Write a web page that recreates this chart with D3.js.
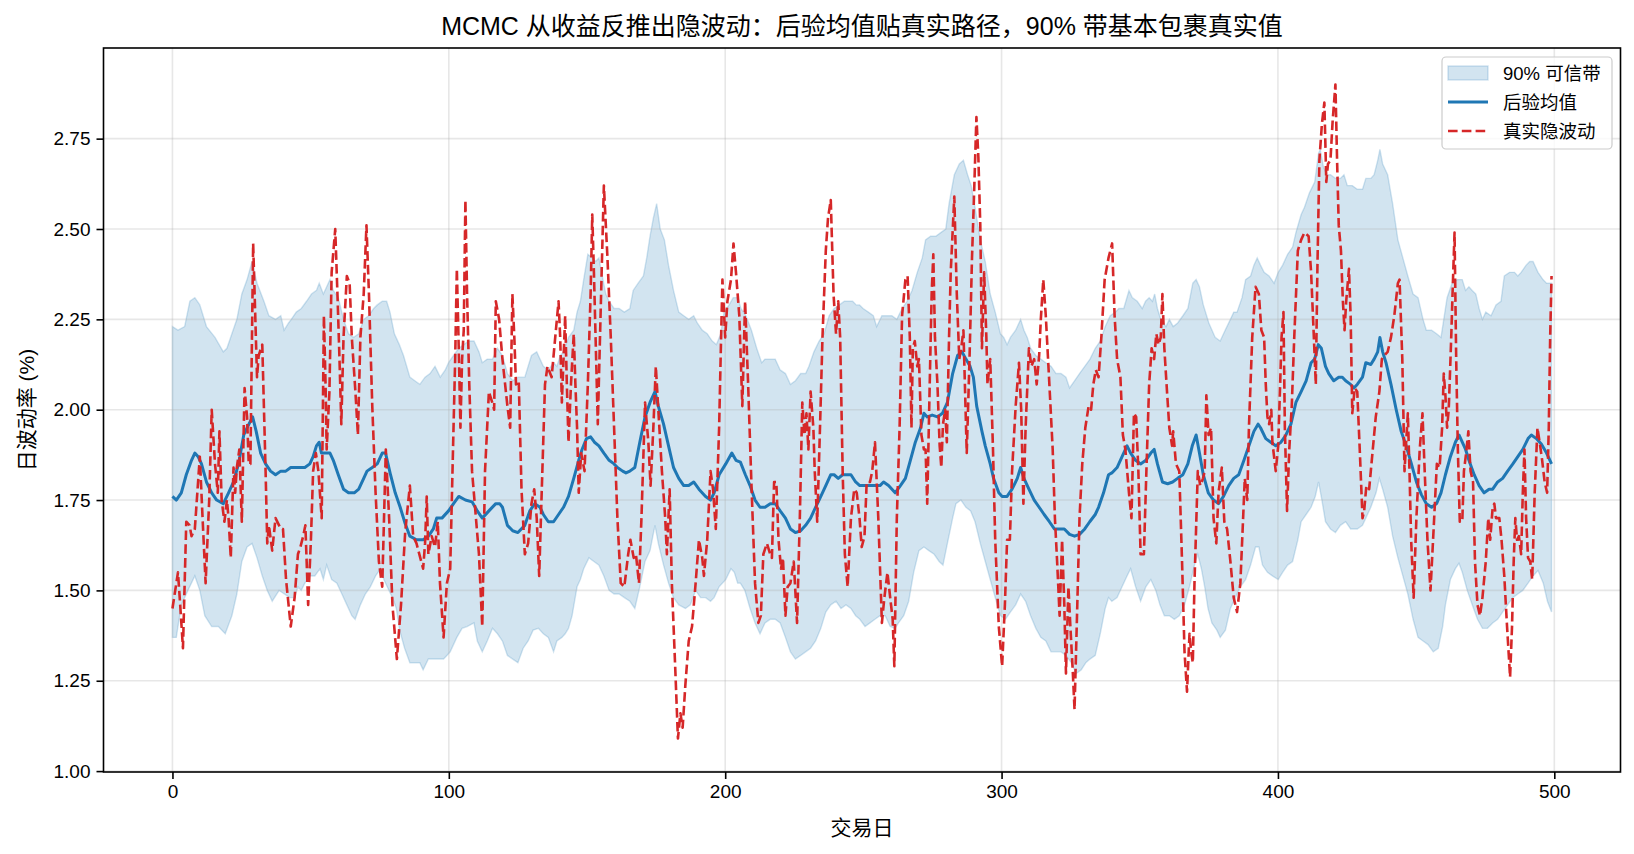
<!DOCTYPE html>
<html><head><meta charset="utf-8">
<script src="https://cdn.jsdelivr.net/npm/d3@7"></script>
<style>
html,body{margin:0;padding:0;background:#fff;}
text{font-family:"Liberation Sans","Noto Sans CJK SC",sans-serif;}
</style></head>
<body><svg id="chart" width="1634" height="854"></svg>
<script>
// ---------- data ----------
const titleText = "MCMC 从收益反推出隐波动：后验均值贴真实路径，90% 带基本包裹真实值";
const xLabel = "交易日";
const yLabel = "日波动率 (%)";
const legendLabels = ["90% 可信带", "后验均值", "真实隐波动"];
const xTicks = [0, 100, 200, 300, 400, 500];
const yTicks = [1.00, 1.25, 1.50, 1.75, 2.00, 2.25, 2.50, 2.75];

const trueDay = [0,2.0,2.8,3.8,5.0,6.2,6.9,8.1,9.9,10.9,12.0,13.3,14.2,15.4,16.4,17.0,17.8,18.8,19.7,20.3,21.1,22.1,22.7,23.3,24.2,25.1,26.1,27.0,27.6,28.2,29.2,30.0,30.6,31.2,32.5,33.7,34.3,34.9,36.1,37.3,39.2,40.0,41.1,42.8,44.2,45.4,46.3,47.3,48.1,49.1,50.1,50.9,51.9,52.8,54.0,54.8,55.4,55.8,56.8,57.6,58.9,59.7,60.4,61.1,61.9,63.1,64.1,64.9,66.2,67.1,68.0,69.2,70.2,71.1,72.3,73.5,74.7,75.9,77.2,78.4,79.6,81.2,82.7,84.2,85.9,87.1,88.3,90.7,91.4,92.0,92.6,93.8,95.0,96.0,96.8,98.1,99.3,100.5,101.7,102.3,102.9,103.5,104.2,104.8,105.4,106.0,106.6,107.4,108.4,109.6,110.9,112.1,113.1,114.5,115.7,116.4,117.0,118.2,119.4,121.2,122.2,123.0,123.7,124.3,125.3,126.3,127.5,128.7,129.9,130.9,131.8,132.7,133.6,134.8,135.7,137.2,138.5,139.7,140.3,140.9,141.5,142.1,142.7,143.3,144.2,145.2,145.8,146.4,147.0,147.9,149.1,150.3,151.3,151.9,152.5,153.1,153.9,154.7,155.5,156.1,157.4,158.6,159.8,161.0,162.2,163.5,164.9,165.7,166.9,167.7,168.8,169.7,171.0,172.2,173.0,174.0,174.9,175.8,177.1,178.3,178.9,179.9,180.7,182.0,182.9,183.8,184.6,185.6,186.8,188.0,189.3,190.5,191.7,192.3,193.5,194.7,195.6,196.6,197.8,198.4,199.0,200.0,200.8,202.1,203.0,203.9,205.1,206.2,207.2,208.3,209.6,210.8,212.0,212.9,213.8,215.1,216.3,216.9,217.7,218.5,219.3,220.2,220.9,221.8,222.6,223.6,224.8,226.0,227.0,227.9,228.7,229.4,230.1,230.9,231.9,232.4,233.3,234.3,235.2,236.4,237.2,238.2,239.2,240.1,240.9,241.6,242.5,243.3,244.3,245.5,246.7,247.6,248.6,249.4,250.4,251.2,252.4,253.2,254.2,255.4,256.7,257.6,258.7,259.7,260.6,261.2,262.1,263.1,264.0,265.2,266.0,266.8,267.4,267.9,268.6,269.5,270.1,271.0,271.9,272.5,273.1,274.0,274.7,275.3,275.9,276.8,277.6,278.2,278.8,279.6,280.2,281.0,281.6,282.9,283.8,284.7,285.4,286.2,286.8,287.4,288.4,289.3,289.9,290.9,291.6,292.3,292.9,293.7,294.5,294.9,295.9,296.9,297.7,299.0,300.2,301.2,302.0,303.0,303.8,305.1,306.3,307.1,307.9,308.7,309.9,310.8,311.8,312.7,313.6,314.2,315.1,316.0,317.3,318.5,319.3,320.1,321.0,321.9,322.7,323.3,324.2,324.9,325.8,326.4,327.4,328.2,329.2,330.3,331.5,332.4,333.2,334.1,335.1,336.1,337.3,338.7,340.0,340.9,341.8,343.0,343.9,344.8,346.1,347.0,347.9,348.7,349.5,350.3,351.5,352.4,353.4,354.3,355.2,356.0,356.8,357.6,358.2,358.9,359.7,360.7,361.7,362.1,363.1,364.3,365.3,366.2,367.1,368.0,368.6,369.2,369.8,371.0,371.9,372.9,373.5,374.1,374.9,375.8,376.7,377.7,378.5,379.7,380.6,381.6,382.8,384.0,385.2,386.4,387.4,388.0,388.9,389.5,390.7,391.9,393.1,394.0,395.0,395.6,396.2,396.8,397.6,398.0,399.2,400.1,400.8,401.3,402.0,402.5,403.3,404.1,405.0,405.9,407.2,408.4,409.6,411.1,412.0,413.0,413.7,414.3,415.0,415.9,416.8,417.5,418.1,419.0,419.8,420.8,421.4,422.0,422.8,423.5,424.1,424.7,425.7,426.3,426.9,427.8,428.7,429.6,430.6,431.2,432.0,433.0,434.2,435.4,436.7,437.6,438.5,439.7,440.9,442.1,443.4,444.0,445.0,445.8,447.0,447.6,448.2,449.1,450.1,451.3,452.3,453.1,454.1,455.2,456.4,457.5,458.5,459.4,460.0,460.6,461.2,461.8,462.7,463.3,463.9,464.5,465.1,465.8,466.7,467.3,468.1,468.9,469.7,470.6,471.3,472.2,473.1,474.0,475.2,476.1,476.8,477.7,478.3,478.9,480.1,480.9,481.9,482.9,484.0,484.7,485.3,485.9,486.5,487.2,488.0,488.6,489.2,489.8,490.5,491.3,492.0,492.9,493.9,494.7,495.6,496.5,497.4,498.0,498.5,499.0];
const trueVol = [1.45,1.55,1.46,1.34,1.69,1.68,1.65,1.67,1.87,1.70,1.52,1.75,2.00,1.85,1.77,1.94,1.75,1.69,1.75,1.70,1.59,1.84,1.77,1.84,1.89,1.69,2.06,1.98,1.85,1.85,2.46,2.25,2.09,2.15,2.18,1.83,1.63,1.68,1.61,1.70,1.67,1.67,1.53,1.40,1.48,1.60,1.62,1.65,1.68,1.46,1.64,1.83,1.88,1.83,1.70,2.26,2.07,1.89,2.05,2.38,2.50,2.32,2.15,1.96,2.20,2.37,2.35,2.20,2.05,1.93,2.20,2.32,2.51,2.32,2.01,1.77,1.58,1.51,1.89,1.70,1.46,1.31,1.46,1.66,1.79,1.65,1.63,1.56,1.63,1.76,1.60,1.65,1.62,1.69,1.52,1.37,1.52,1.56,1.95,2.14,2.39,2.20,1.95,2.14,2.22,2.58,2.32,2.07,1.83,1.72,1.60,1.40,1.83,2.05,2.02,2.00,2.30,2.25,2.14,2.01,1.95,2.32,2.20,2.07,2.08,1.78,1.60,1.63,1.74,1.78,1.70,1.54,1.77,2.07,2.12,2.09,2.20,2.30,2.20,2.02,2.14,2.26,2.07,1.91,2.07,2.21,2.07,1.95,1.77,1.88,1.83,2.07,2.32,2.54,2.38,2.20,1.96,2.20,2.44,2.62,2.42,2.20,1.95,1.70,1.52,1.51,1.60,1.64,1.59,1.60,1.52,1.70,2.02,1.91,1.79,1.95,2.12,2.00,1.83,1.70,1.60,1.78,1.52,1.27,1.09,1.16,1.12,1.24,1.36,1.40,1.52,1.64,1.59,1.54,1.64,1.83,1.78,1.67,1.95,2.16,2.36,2.20,2.30,2.36,2.46,2.38,2.26,2.01,2.30,2.07,1.77,1.52,1.41,1.43,1.60,1.63,1.60,1.59,1.80,1.80,1.64,1.56,1.59,1.43,1.51,1.52,1.58,1.41,1.70,2.02,1.93,1.99,1.89,2.05,1.95,1.83,1.69,1.95,2.20,2.44,2.53,2.58,2.32,2.21,2.30,2.20,1.83,1.60,1.51,1.70,1.78,1.77,1.70,1.62,1.65,1.80,1.80,1.83,1.91,1.70,1.41,1.48,1.55,1.48,1.42,1.29,1.70,1.95,2.26,2.36,2.37,2.20,1.95,2.17,2.19,2.12,2.14,1.93,1.89,1.89,1.74,2.07,2.32,2.43,2.20,2.07,1.90,1.84,1.96,2.00,1.91,2.20,2.38,2.59,2.32,2.14,2.17,2.22,2.05,1.88,2.14,2.42,2.56,2.81,2.70,2.51,2.17,2.38,2.20,2.07,2.14,1.89,1.64,1.40,1.29,1.46,1.64,1.64,1.83,2.01,2.13,2.00,1.74,1.95,2.17,2.12,2.14,2.07,2.15,2.25,2.36,2.26,2.07,1.89,1.70,1.58,1.43,1.64,1.46,1.27,1.51,1.40,1.27,1.17,1.46,1.70,1.85,1.95,2.01,2.00,2.07,2.11,2.09,2.20,2.36,2.42,2.46,2.26,2.14,2.09,1.93,1.89,1.77,1.70,1.99,1.98,1.83,1.60,1.60,1.83,2.07,2.17,2.14,2.21,2.18,2.20,2.32,2.17,2.07,1.95,1.90,1.94,1.85,1.83,1.58,1.33,1.22,1.38,1.33,1.30,1.52,1.83,1.79,1.81,1.83,2.04,1.93,1.95,1.70,1.63,1.77,1.84,1.69,1.67,1.58,1.48,1.44,1.52,1.70,1.81,1.75,1.95,2.20,2.34,2.32,2.22,2.20,2.07,1.98,1.96,2.00,1.91,1.83,1.90,2.07,2.20,2.27,1.95,1.72,1.89,2.01,2.20,2.44,2.47,2.49,2.48,2.38,2.20,2.07,2.40,2.69,2.79,2.85,2.63,2.68,2.69,2.80,2.90,2.69,2.51,2.44,2.30,2.22,2.30,2.39,2.26,1.99,2.06,2.05,1.89,1.70,1.72,1.79,1.78,1.88,1.98,2.05,2.14,2.15,2.16,2.20,2.26,2.35,2.36,2.14,1.83,1.99,1.83,1.64,1.48,1.70,1.89,1.99,1.83,1.64,1.50,1.68,1.85,1.84,1.95,2.10,2.04,1.95,2.00,2.20,2.35,2.49,2.14,1.89,1.69,1.69,1.83,1.88,1.94,1.83,1.80,1.58,1.46,1.43,1.48,1.58,1.70,1.64,1.73,1.74,1.70,1.70,1.64,1.54,1.40,1.26,1.40,1.58,1.70,1.64,1.65,1.60,1.77,1.89,1.70,1.59,1.58,1.53,1.77,1.95,1.91,1.86,1.80,1.77,1.95,2.20,2.37];

const meanDay = [0,1.4,3.2,5.0,6.9,8.1,9.3,10.5,12.3,14.2,16.0,18.4,20.3,22.1,23.9,25.8,27.0,29.0,30.3,31.9,33.7,35.5,37.3,39.2,41.0,42.8,44.8,46.1,47.9,49.7,50.9,52.1,53.1,53.9,55.8,57.0,58.2,60.0,61.9,63.7,65.8,67.4,69.2,70.4,72.3,74.1,75.9,77.1,78.9,80.6,82.4,84.2,85.9,88.3,90.7,92.6,94.4,95.6,97.5,99.9,101.7,103.6,106.0,108.4,110.3,112.1,114.5,117.0,118.4,119.4,121.2,123.1,125.0,127.5,129.3,131.1,133.0,134.2,136.0,137.9,139.7,141.5,143.3,145.2,147.0,148.2,149.8,151.3,152.7,154.3,156.1,158.0,159.8,161.0,162.9,164.1,165.5,167.3,169.1,171.0,172.8,174.6,175.8,177.7,179.5,181.3,183.2,185.0,186.8,188.6,190.5,192.9,194.7,196.0,197.8,200.2,202.4,203.9,205.5,207.3,209.0,210.8,212.6,214.4,216.3,218.1,219.9,221.8,223.6,225.4,227.3,229.1,230.9,232.7,234.6,236.4,238.2,239.4,240.9,242.5,244.1,245.5,247.2,248.7,250.6,252.4,254.2,256.0,257.3,259.1,261.5,263.4,265.2,267.0,268.8,270.7,271.9,273.1,274.9,276.8,278.6,280.4,282.3,284.1,285.7,287.1,288.6,289.8,291.0,292.9,294.1,295.9,297.1,299.0,300.2,302.0,303.8,305.7,306.9,308.1,309.9,311.8,313.6,315.4,317.3,319.1,320.9,322.7,324.6,326.4,328.2,330.1,331.9,333.9,335.1,336.9,338.7,339.9,341.8,343.6,345.4,346.7,348.5,350.3,352.2,354.0,355.2,356.4,358.2,360.1,361.9,363.7,365.6,367.4,369.0,370.4,371.6,373.0,374.8,376.7,378.5,380.3,382.2,384.0,385.8,387.7,389.5,391.3,392.8,393.7,395.6,397.4,399.2,401.1,402.9,404.7,406.5,408.4,410.2,412.0,413.3,414.6,415.7,417.2,418.4,420.2,422.0,423.3,424.5,426.3,427.5,428.7,430.6,431.8,433.6,434.8,436.1,436.9,437.9,439.1,440.9,442.8,444.6,446.4,448.3,450.1,451.9,453.7,455.6,457.4,459.0,460.6,462.4,464.2,465.5,466.7,467.9,469.1,471.0,472.8,474.6,476.4,477.7,479.5,481.3,483.1,485.0,486.8,488.6,490.5,491.7,493.5,495.3,497.2,499.0];
const meanVol = [1.76,1.75,1.77,1.82,1.86,1.88,1.87,1.85,1.80,1.77,1.75,1.74,1.77,1.80,1.85,1.93,1.95,1.98,1.94,1.88,1.85,1.83,1.82,1.83,1.83,1.84,1.84,1.84,1.84,1.85,1.87,1.90,1.91,1.88,1.88,1.88,1.86,1.82,1.78,1.77,1.77,1.78,1.81,1.83,1.84,1.85,1.88,1.88,1.82,1.77,1.73,1.685,1.65,1.64,1.64,1.65,1.67,1.70,1.70,1.72,1.74,1.76,1.75,1.745,1.72,1.70,1.72,1.74,1.74,1.73,1.68,1.665,1.66,1.68,1.72,1.74,1.73,1.71,1.69,1.69,1.71,1.73,1.76,1.81,1.86,1.89,1.92,1.925,1.91,1.90,1.88,1.86,1.85,1.84,1.83,1.825,1.83,1.84,1.91,1.98,2.02,2.05,2.01,1.96,1.90,1.84,1.81,1.79,1.79,1.80,1.78,1.76,1.75,1.77,1.82,1.85,1.88,1.86,1.855,1.82,1.79,1.75,1.73,1.73,1.74,1.74,1.72,1.70,1.67,1.66,1.665,1.68,1.70,1.73,1.76,1.79,1.82,1.82,1.81,1.82,1.82,1.82,1.80,1.79,1.79,1.79,1.79,1.79,1.80,1.79,1.77,1.79,1.81,1.86,1.91,1.95,1.99,1.98,1.985,1.98,1.99,2.02,2.10,2.15,2.16,2.14,2.12,2.09,2.01,1.94,1.90,1.85,1.81,1.77,1.76,1.76,1.78,1.81,1.84,1.81,1.78,1.75,1.73,1.71,1.69,1.67,1.67,1.67,1.655,1.65,1.655,1.67,1.69,1.71,1.73,1.77,1.82,1.825,1.84,1.87,1.90,1.88,1.86,1.85,1.86,1.88,1.89,1.85,1.80,1.795,1.80,1.81,1.82,1.85,1.90,1.93,1.88,1.82,1.77,1.75,1.74,1.76,1.79,1.81,1.82,1.86,1.90,1.94,1.96,1.95,1.92,1.91,1.90,1.91,1.93,1.96,2.02,2.05,2.08,2.13,2.14,2.18,2.17,2.12,2.10,2.08,2.09,2.09,2.08,2.07,2.06,2.07,2.09,2.13,2.125,2.14,2.16,2.20,2.16,2.13,2.07,2.00,1.94,1.90,1.85,1.80,1.765,1.74,1.73,1.74,1.77,1.82,1.87,1.91,1.93,1.91,1.89,1.86,1.82,1.79,1.77,1.78,1.78,1.80,1.81,1.83,1.85,1.87,1.89,1.92,1.93,1.92,1.905,1.88,1.85];

const hiDay = [0,2.0,4.4,6.3,8.1,9.9,12.3,15.4,18.4,19.7,21.5,23.3,25.1,27.0,28.8,30.6,33.1,34.9,37.3,39.2,40.4,42.0,43.0,44.8,46.6,48.5,50.3,52.1,53.1,54.6,55.8,57.0,58.2,60.0,61.9,63.7,65.5,67.4,69.2,71.0,72.8,74.1,75.9,77.5,78.7,80.3,82.1,83.6,85.9,87.7,89.5,91.4,93.2,95.0,96.9,98.7,99.9,101.7,103.6,105.4,107.2,109.1,110.9,112.1,113.9,115.8,117.6,119.4,121.2,123.1,125.0,127.5,128.7,129.9,131.8,133.0,134.2,136.0,137.9,139.1,140.3,141.5,143.3,145.2,146.4,147.6,148.8,150.3,151.9,153.1,154.3,155.5,156.8,158.0,159.8,161.6,163.5,165.5,166.7,168.5,170.4,171.6,172.8,174.0,175.2,176.5,178.0,179.5,181.3,183.2,185.0,186.8,188.6,189.9,191.7,193.5,195.3,196.8,198.4,199.6,201.4,202.9,204.5,205.7,207.5,209.5,211.4,213.2,214.4,216.3,218.1,219.9,221.8,223.6,225.4,227.3,229.1,230.3,232.1,234.0,235.8,237.6,239.4,241.3,243.1,244.6,246.1,247.4,248.6,249.9,251.8,253.6,254.8,256.7,258.5,260.3,262.1,264.0,265.8,267.6,269.5,271.3,272.5,274.3,276.2,278.0,279.8,281.0,282.9,284.7,286.2,287.7,289.0,290.4,292.3,294.1,295.9,297.7,299.6,300.8,302.0,303.2,305.1,306.9,308.1,309.3,310.5,312.4,314.2,316.0,317.9,319.7,321.5,323.3,324.6,326.4,328.2,330.1,332.0,333.9,335.7,337.5,339.3,341.2,342.4,344.2,346.1,347.3,349.1,350.9,352.1,353.4,354.6,355.4,356.4,357.6,359.5,360.7,362.1,363.7,365.6,367.4,369.2,370.4,371.6,373.0,375.0,377.3,379.1,380.9,382.8,384.0,385.2,387.0,388.3,390.1,391.3,392.5,393.7,395.0,396.8,398.6,400.1,401.7,403.5,405.3,406.5,408.4,409.6,411.4,413.3,414.7,415.3,416.5,417.8,419.0,420.8,422.6,423.9,425.1,426.9,428.7,430.6,431.8,433.6,434.8,436.1,436.9,437.9,439.7,441.5,443.4,445.2,447.0,448.9,450.7,452.5,453.7,455.6,457.4,459.0,460.0,461.2,463.0,464.9,466.7,467.9,469.1,470.3,471.6,472.8,474.0,475.2,477.1,478.9,480.7,481.9,483.8,485.6,486.8,488.0,489.8,491.1,492.3,494.1,495.9,497.2,499.0];
const hiVol = [2.23,2.22,2.23,2.30,2.31,2.29,2.23,2.20,2.16,2.17,2.21,2.25,2.32,2.36,2.41,2.35,2.30,2.26,2.25,2.26,2.22,2.24,2.25,2.27,2.28,2.30,2.32,2.33,2.35,2.32,2.34,2.36,2.33,2.31,2.25,2.21,2.20,2.21,2.25,2.26,2.28,2.29,2.30,2.30,2.27,2.21,2.18,2.15,2.09,2.08,2.07,2.09,2.10,2.12,2.09,2.11,2.13,2.15,2.17,2.18,2.19,2.19,2.16,2.13,2.14,2.14,2.17,2.15,2.10,2.08,2.09,2.09,2.12,2.15,2.16,2.14,2.12,2.11,2.13,2.12,2.15,2.16,2.20,2.22,2.27,2.30,2.36,2.43,2.42,2.41,2.42,2.37,2.32,2.30,2.28,2.28,2.27,2.28,2.33,2.35,2.37,2.42,2.48,2.53,2.57,2.50,2.47,2.40,2.33,2.27,2.26,2.25,2.26,2.24,2.22,2.21,2.19,2.18,2.21,2.27,2.29,2.31,2.31,2.28,2.26,2.22,2.17,2.13,2.14,2.14,2.14,2.11,2.10,2.07,2.08,2.10,2.10,2.12,2.16,2.19,2.21,2.26,2.28,2.29,2.30,2.30,2.30,2.29,2.29,2.28,2.27,2.26,2.23,2.26,2.26,2.26,2.25,2.28,2.30,2.33,2.38,2.42,2.47,2.48,2.48,2.49,2.50,2.57,2.65,2.68,2.69,2.65,2.62,2.56,2.47,2.41,2.32,2.27,2.21,2.20,2.18,2.20,2.22,2.25,2.22,2.20,2.17,2.15,2.14,2.13,2.12,2.10,2.10,2.09,2.06,2.08,2.10,2.12,2.14,2.17,2.19,2.23,2.26,2.27,2.28,2.28,2.33,2.31,2.30,2.28,2.30,2.31,2.30,2.32,2.28,2.25,2.23,2.25,2.23,2.24,2.26,2.28,2.35,2.36,2.34,2.29,2.24,2.20,2.19,2.22,2.25,2.27,2.27,2.31,2.36,2.37,2.40,2.42,2.40,2.38,2.37,2.35,2.38,2.40,2.43,2.45,2.49,2.54,2.56,2.60,2.63,2.71,2.72,2.67,2.65,2.65,2.64,2.64,2.65,2.62,2.62,2.61,2.61,2.64,2.64,2.65,2.69,2.72,2.68,2.65,2.57,2.47,2.42,2.37,2.32,2.31,2.25,2.22,2.22,2.21,2.20,2.25,2.31,2.35,2.36,2.36,2.33,2.34,2.33,2.32,2.28,2.25,2.27,2.26,2.29,2.30,2.37,2.38,2.38,2.37,2.38,2.40,2.41,2.41,2.38,2.36,2.35,2.35];

const loDay = [0,1.4,3.2,5.6,8.1,9.9,11.7,14.2,16.6,19.1,21.5,23.3,25.1,27.0,28.8,30.6,32.5,34.3,36.1,38.6,40.5,42.4,44.2,45.4,46.6,47.9,49.7,51.5,53.4,54.6,55.8,57.6,59.5,61.3,63.1,64.9,66.1,68.0,69.8,71.6,73.5,75.3,76.5,77.7,79.6,81.0,82.2,84.0,85.9,87.7,89.5,90.7,92.6,94.4,96.2,98.1,99.3,100.5,101.7,102.9,104.8,106.6,109.1,110.3,112.1,113.9,115.8,117.6,119.4,121.2,123.1,125.0,126.9,128.7,130.5,132.4,134.2,136.0,137.9,139.1,140.9,142.1,143.3,144.6,146.4,147.6,148.8,150.7,152.5,154.3,156.1,158.0,159.8,161.6,163.5,165.5,167.3,169.1,171.0,172.8,174.6,175.8,177.7,179.5,181.3,183.2,185.6,187.4,189.3,191.1,192.9,194.7,196.0,197.8,200.2,202.1,203.3,204.5,205.5,207.1,209.0,210.8,212.6,214.4,216.3,218.1,219.9,221.8,223.6,225.4,227.3,229.1,230.9,232.7,234.6,236.4,238.2,240.1,241.9,243.7,245.5,247.2,248.7,250.6,252.4,254.2,256.0,257.9,259.7,261.5,262.7,264.6,266.4,268.2,270.1,271.9,273.7,275.6,277.4,278.8,280.4,282.3,283.5,285.3,287.1,288.8,290.4,292.3,294.1,295.9,297.7,299.6,301.4,303.2,305.1,306.9,308.7,310.5,312.4,314.2,316.0,317.9,319.7,321.5,323.3,325.2,327.0,328.8,330.5,332.0,333.9,335.7,337.5,338.7,339.9,341.8,343.6,345.4,346.7,348.5,350.3,352.2,354.0,355.8,357.3,358.9,360.7,362.5,364.3,366.2,368.0,369.8,371.0,372.3,373.5,374.7,376.1,377.9,379.1,381.0,382.8,384.6,386.4,388.3,390.1,391.9,393.1,394.4,396.2,398.0,400.1,401.7,403.5,405.3,407.2,408.4,410.2,412.0,413.5,414.7,415.9,417.2,419.0,420.8,422.6,424.5,426.3,428.7,430.6,431.8,433.6,435.5,436.7,437.9,439.7,441.5,443.4,445.2,447.0,448.9,450.7,452.5,454.3,456.2,458.0,459.6,460.6,462.4,464.2,465.5,466.7,468.5,470.3,472.2,474.0,475.8,477.7,479.5,481.3,483.1,485.0,486.8,488.6,490.5,492.3,494.1,496.0,497.5,499.0];
const loVol = [1.37,1.37,1.46,1.50,1.54,1.50,1.43,1.40,1.40,1.38,1.43,1.49,1.58,1.62,1.63,1.59,1.54,1.50,1.47,1.50,1.49,1.48,1.48,1.51,1.50,1.52,1.54,1.54,1.56,1.53,1.57,1.53,1.52,1.49,1.46,1.43,1.42,1.46,1.49,1.51,1.54,1.56,1.53,1.51,1.48,1.45,1.39,1.34,1.30,1.30,1.30,1.28,1.31,1.31,1.31,1.31,1.32,1.33,1.35,1.37,1.395,1.40,1.41,1.36,1.33,1.36,1.395,1.38,1.36,1.32,1.31,1.30,1.34,1.36,1.39,1.395,1.38,1.37,1.33,1.36,1.37,1.38,1.395,1.43,1.51,1.53,1.56,1.59,1.58,1.57,1.54,1.50,1.49,1.49,1.48,1.47,1.45,1.51,1.58,1.61,1.68,1.63,1.57,1.52,1.48,1.46,1.45,1.46,1.50,1.48,1.48,1.47,1.48,1.51,1.53,1.56,1.55,1.52,1.52,1.50,1.45,1.41,1.38,1.41,1.42,1.42,1.41,1.37,1.33,1.31,1.32,1.33,1.34,1.36,1.395,1.44,1.46,1.47,1.45,1.46,1.45,1.43,1.42,1.40,1.41,1.42,1.43,1.43,1.40,1.395,1.41,1.43,1.47,1.55,1.61,1.62,1.61,1.60,1.58,1.57,1.63,1.70,1.74,1.75,1.73,1.72,1.69,1.63,1.58,1.53,1.48,1.43,1.42,1.44,1.46,1.49,1.47,1.43,1.395,1.37,1.36,1.33,1.33,1.33,1.32,1.30,1.27,1.28,1.30,1.31,1.32,1.38,1.45,1.48,1.47,1.48,1.51,1.54,1.56,1.51,1.47,1.51,1.53,1.50,1.46,1.43,1.43,1.42,1.43,1.46,1.51,1.57,1.60,1.56,1.51,1.45,1.41,1.39,1.37,1.39,1.45,1.48,1.51,1.53,1.57,1.62,1.62,1.57,1.55,1.54,1.53,1.55,1.57,1.58,1.64,1.69,1.71,1.73,1.76,1.80,1.75,1.69,1.67,1.66,1.68,1.69,1.67,1.67,1.68,1.70,1.73,1.77,1.81,1.78,1.73,1.65,1.59,1.54,1.49,1.42,1.37,1.36,1.35,1.33,1.34,1.40,1.46,1.53,1.56,1.575,1.55,1.50,1.46,1.42,1.395,1.395,1.41,1.42,1.44,1.46,1.48,1.49,1.50,1.52,1.54,1.555,1.52,1.47,1.44];

// ---------- drawing ----------
const svg = d3.select("#chart");
const W = 1634, H = 854;
const L = 103.5, R = 1620.5, T = 48, B = 772;
const C0 = "#1f77b4", C3 = "#d62728";

svg.append("rect").attr("width", W).attr("height", H).attr("fill", "#fff");

const x = d3.scaleLinear().domain([-24.95, 523.95]).range([L, R]);
const y = d3.scaleLinear().domain([0.9975, 3.0008]).range([B, T]);

const pts = (ds, vs) => ds.map((d, i) => [d, vs[i]]);
const hiPts = pts(hiDay, hiVol);
const loPts = pts(loDay, loVol);
const meanPts = pts(meanDay, meanVol);
const truePts = pts(trueDay, trueVol);

const line = d3.line().x(d => x(d[0])).y(d => y(d[1]));

// credible band: upper edge forward, lower edge backward
const bandPts = hiPts.concat(loPts.slice().reverse());
svg.append("path")
  .attr("d", line(bandPts) + "Z")
  .attr("fill", C0).attr("fill-opacity", 0.2)
  .attr("stroke", C0).attr("stroke-opacity", 0.2).attr("stroke-width", 1.4);

// grid
const g = svg.append("g");
g.selectAll("line.gx").data(xTicks).enter().append("line")
  .attr("x1", d => x(d)).attr("x2", d => x(d)).attr("y1", T).attr("y2", B)
  .attr("stroke", "#b0b0b0").attr("stroke-opacity", 0.3).attr("stroke-width", 1.6);
g.selectAll("line.gy").data(yTicks).enter().append("line")
  .attr("y1", d => y(d)).attr("y2", d => y(d)).attr("x1", L).attr("x2", R)
  .attr("stroke", "#b0b0b0").attr("stroke-opacity", 0.3).attr("stroke-width", 1.6);

// mean line
svg.append("path").attr("d", line(meanPts))
  .attr("fill", "none").attr("stroke", C0).attr("stroke-width", 3)
  .attr("stroke-linejoin", "round").attr("stroke-linecap", "butt");

// true path
svg.append("path").attr("d", line(truePts))
  .attr("fill", "none").attr("stroke", C3).attr("stroke-width", 2.6)
  .attr("stroke-dasharray", "9.6,4.2").attr("stroke-linejoin", "round");

// axes
const fs = 19;
const xAxis = svg.append("g").attr("transform", `translate(0,${B})`)
  .call(d3.axisBottom(x).tickValues(xTicks).tickFormat(d3.format("d")).tickSize(7).tickPadding(6));
const yAxis = svg.append("g").attr("transform", `translate(${L},0)`)
  .call(d3.axisLeft(y).tickValues(yTicks).tickFormat(d3.format(".2f")).tickSize(7).tickPadding(6));
[xAxis, yAxis].forEach(a => {
  a.select(".domain").remove();
  a.selectAll(".tick line").attr("stroke", "#000").attr("stroke-width", 1.6);
  a.selectAll(".tick text").attr("fill", "#000").style("font-size", fs + "px")
    .style("font-family", '"Liberation Sans","Noto Sans CJK SC",sans-serif');
});

// spines
svg.append("rect").attr("x", L).attr("y", T).attr("width", R - L).attr("height", B - T)
  .attr("fill", "none").attr("stroke", "#000").attr("stroke-width", 1.6);

// title & labels
svg.append("text").attr("x", (L + R) / 2).attr("y", 26).attr("text-anchor", "middle")
  .attr("dominant-baseline", "central").style("font-size", "25px").text(titleText);
svg.append("text").attr("x", (L + R) / 2).attr("y", 827).attr("text-anchor", "middle")
  .attr("dominant-baseline", "central").style("font-size", "21px").text(xLabel);
svg.append("text").attr("transform", `translate(26,${(T + B) / 2}) rotate(-90)`)
  .attr("text-anchor", "middle").attr("dominant-baseline", "central")
  .style("font-size", "21px").text(yLabel);

// legend
const lg = svg.append("g");
const lx = 1442, ly = 57, lw = 170, lh = 92;
lg.append("rect").attr("x", lx).attr("y", ly).attr("width", lw).attr("height", lh)
  .attr("rx", 4).attr("fill", "#fff").attr("fill-opacity", 0.8)
  .attr("stroke", "#cccccc").attr("stroke-width", 1.2);
const rowY = [73, 102, 131];
const hx0 = 1448, hx1 = 1488, tx = 1503;
lg.append("rect").attr("x", hx0).attr("y", rowY[0] - 7).attr("width", hx1 - hx0).attr("height", 14)
  .attr("fill", C0).attr("fill-opacity", 0.2).attr("stroke", C0).attr("stroke-opacity", 0.2).attr("stroke-width", 1.4);
lg.append("line").attr("x1", hx0).attr("x2", hx1).attr("y1", rowY[1]).attr("y2", rowY[1])
  .attr("stroke", C0).attr("stroke-width", 3);
lg.append("line").attr("x1", hx0).attr("x2", hx1).attr("y1", rowY[2]).attr("y2", rowY[2])
  .attr("stroke", C3).attr("stroke-width", 2.6).attr("stroke-dasharray", "9.6,4.2");
lg.selectAll("text.lt").data(legendLabels).enter().append("text")
  .attr("x", tx).attr("y", (d, i) => rowY[i]).attr("dominant-baseline", "central")
  .style("font-size", "18.5px").text(d => d);
</script></body></html>
